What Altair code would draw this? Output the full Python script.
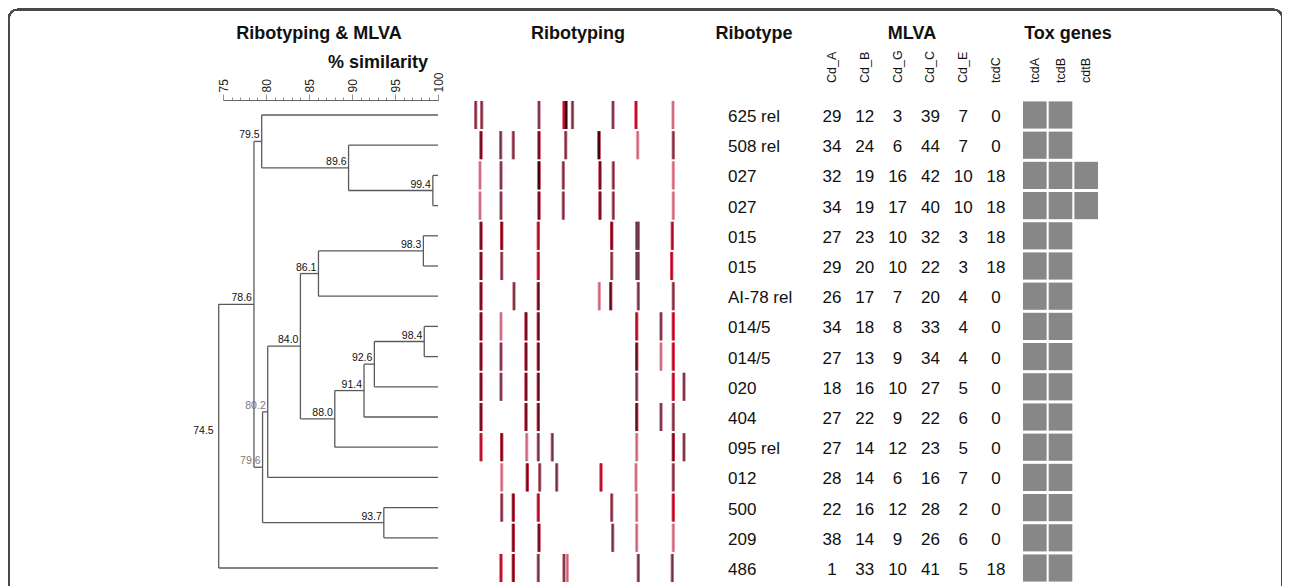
import altair as alt
import pandas as pd

# ---------------- data ----------------
ribotypes = ["625 rel", "508 rel", "027", "027", "015", "015", "AI-78 rel", "014/5",
             "014/5", "020", "404", "095 rel", "012", "500", "209", "486"]

mlva_loci = ["Cd_A", "Cd_B", "Cd_G", "Cd_C", "Cd_E", "tcdC"]
cd_a = [29, 34, 32, 34, 27, 29, 26, 34, 27, 18, 27, 27, 28, 22, 38, 1]
cd_b = [12, 24, 19, 19, 23, 20, 17, 18, 13, 16, 22, 14, 14, 16, 14, 33]
cd_g = [3, 6, 16, 17, 10, 10, 7, 8, 9, 10, 9, 12, 6, 12, 9, 10]
cd_c = [39, 44, 42, 40, 32, 22, 20, 33, 34, 27, 22, 23, 16, 28, 26, 41]
cd_e = [7, 7, 10, 10, 3, 3, 4, 4, 4, 5, 6, 5, 7, 2, 6, 5]
tcdc = [0, 0, 18, 18, 18, 18, 0, 0, 0, 0, 0, 0, 0, 0, 0, 18]

tox_genes = ["tcdA", "tcdB", "cdtB"]
tcda = [1, 1, 1, 1, 1, 1, 1, 1, 1, 1, 1, 1, 1, 1, 1, 1]
tcdb = [1, 1, 1, 1, 1, 1, 1, 1, 1, 1, 1, 1, 1, 1, 1, 1]
cdtb = [0, 0, 1, 1, 0, 0, 0, 0, 0, 0, 0, 0, 0, 0, 0, 0]

# dendrogram: node similarity and its two children ("L#" = leaf row)
node_ids = ["a", "b", "c", "d", "e", "f", "g", "h", "i", "j", "k", "l", "m", "n", "o"]
node_sim = [74.5, 78.6, 79.5, 89.6, 99.4, 79.6, 80.2, 84.0, 86.1, 98.3, 88.0, 91.4, 92.6, 98.4, 93.7]
node_left = ["b", "c", "L0", "L1", "L2", "g", "h", "i", "j", "L4", "l", "m", "n", "L7", "L13"]
node_right = ["L15", "f", "d", "e", "L3", "o", "L12", "k", "L6", "L5", "L11", "L10", "L9", "L8", "L14"]
node_faded = ["f", "g"]

# ribotyping band positions (migration distance units) and tone per row
band_pos = [
    [10.7, 16.7, 74, 99, 101, 107.5, 148, 171, 208],
    [16, 35.7, 48.3, 74, 100.7, 134, 172.7, 208.3],
    [15, 36, 74, 98.3, 135, 148.3, 208.3],
    [15, 36, 74, 98.3, 135, 148.3, 208.3],
    [16, 36.7, 73.3, 146.7, 171.7, 173.3, 207.3],
    [16, 36.7, 73.3, 146.7, 171.7, 173.3, 206.7],
    [16, 49, 73.3, 134.3, 145.7, 173.3, 208.3],
    [16, 36, 61, 73.3, 171.7, 196, 208.3],
    [16, 36, 61, 73.3, 171.7, 196, 208.3],
    [16, 36, 61, 73.3, 171.7, 208.3, 219],
    [16, 61, 73.3, 171.7, 196, 208.3],
    [16, 36.7, 61.7, 73.3, 87.3, 171.7, 208.3, 219],
    [36.7, 62.3, 74.7, 91.7, 136, 171, 208.3],
    [36.7, 48.3, 73.3, 146.7, 171.7, 208.3],
    [48.3, 74, 147.7, 171.7, 208.3],
    [36, 48.3, 73.3, 99, 102.3, 173.3, 207.3],
]
band_tone = [
    ["m", "m", "m", "r", "D", "m", "m", "r", "p"],
    ["d", "m", "m", "d", "m", "D", "p", "m"],
    ["p", "m", "D", "m", "d", "m", "p"],
    ["p", "m", "d", "m", "d", "m", "p"],
    ["d", "d", "r", "d", "m", "m", "r"],
    ["d", "m", "r", "m", "m", "m", "r"],
    ["d", "m", "d", "p", "d", "m", "m"],
    ["d", "p", "d", "d", "r", "m", "r"],
    ["d", "m", "d", "d", "d", "p", "r"],
    ["d", "m", "d", "d", "m", "r", "m"],
    ["d", "d", "d", "d", "m", "m"],
    ["r", "d", "p", "m", "m", "p", "d", "m"],
    ["p", "d", "m", "m", "r", "p", "m"],
    ["m", "d", "r", "m", "p", "r"],
    ["d", "d", "m", "p", "p"],
    ["r", "d", "m", "m", "p", "m", "m"],
]
tone_names = ["D", "d", "r", "m", "p"]
tone_halo = ["#b81e36", "#cf3a52", "#ee4a64", "#d07a8c", "#f2a8b6"]
tone_core = ["#22050a", "#5c0f1e", "#a80c26", "#6a3242", "#c8647a"]

# ---------------- tables built from the arrays ----------------
def ref_y(ref):
    if ref.startswith("L"):
        return float(ref[1:])
    i = node_ids.index(ref)
    return (ref_y(node_left[i]) + ref_y(node_right[i])) / 2.0


def ref_x(ref):
    if ref.startswith("L"):
        return 100.0
    return node_sim[node_ids.index(ref)]


seg_rows = []
lab_rows = []
for i, nid in enumerate(node_ids):
    s = node_sim[i]
    yl, yr = ref_y(node_left[i]), ref_y(node_right[i])
    seg_rows.append({"x": s, "x2": s, "y": yl, "y2": yr})
    for ch in (node_left[i], node_right[i]):
        seg_rows.append({"x": s, "x2": ref_x(ch), "y": ref_y(ch), "y2": ref_y(ch)})
    lab_rows.append({"x": s, "y": (yl + yr) / 2.0, "label": f"{s:.1f}",
                     "shade": "faded" if nid in node_faded else "normal",
                     "root": i == 0})
segs = pd.DataFrame(seg_rows)
labs = pd.DataFrame(lab_rows)

bands = pd.DataFrame([
    {"row": r, "pos": p, "tone": t}
    for r in range(len(ribotypes))
    for p, t in zip(band_pos[r], band_tone[r])
])

rib_df = pd.DataFrame({"row": list(range(len(ribotypes))), "ribotype": ribotypes})

mlva_cols = [cd_a, cd_b, cd_g, cd_c, cd_e, tcdc]
mlva_df = pd.DataFrame([
    {"row": r, "locus": loc, "value": vals[r]}
    for loc, vals in zip(mlva_loci, mlva_cols)
    for r in range(len(ribotypes))
])
mlva_head = pd.DataFrame({"locus": mlva_loci})

tox_cols = [tcda, tcdb, cdtb]
tox_df = pd.DataFrame([
    {"row": r, "gene": g}
    for g, vals in zip(tox_genes, tox_cols)
    for r in range(len(ribotypes)) if vals[r]
])
tox_head = pd.DataFrame({"gene": tox_genes})

# ---------------- scales ----------------
FONT = "Liberation Sans"
Y_SCALE = alt.Scale(domain=[0, 15], range=[107, 560], zero=False, nice=False)
SIM_SCALE = alt.Scale(domain=[75, 100], range=[215, 430], zero=False, nice=False)
BAND_SCALE = alt.Scale(domain=[0, 230], range=[457, 687], zero=False, nice=False)
LOCUS_SCALE = alt.Scale(type="point", domain=mlva_loci, range=[824, 988], padding=0)
GENE_SCALE = alt.Scale(type="band", domain=tox_genes, range=[1015, 1090],
                       paddingInner=0.08, paddingOuter=0)

sim_axis = alt.Axis(
    orient="top", offset=-92, values=list(range(75, 101)), title=None,
    labelExpr="datum.value % 5 === 0 ? datum.label : ''",
    labelAngle=270, labelFontSize=12, labelFont=FONT, labelColor="#222",
    labelPadding=2, labelFlush=False, labelOverlap=False, labelBound=False,
    domainColor="#666", domainWidth=1, tickColor="#777", tickWidth=0.8,
    tickSize={"condition": {"test": "datum.value % 5 === 0", "value": 6}, "value": 3},
    grid=False,
)

# ---------------- layers ----------------
border = alt.Chart(rib_df).mark_rect(
    clip=True, fillOpacity=0, stroke="#4a4a4a", strokeWidth=1.5, cornerRadius=9
).encode(x=alt.value(0.75), x2=alt.value(1274.5), y=alt.value(1.5), y2=alt.value(660))

tree = alt.Chart(segs).mark_rule(color="#5a5a5a", strokeWidth=1.3).encode(
    x=alt.X("x:Q", scale=SIM_SCALE, axis=sim_axis),
    x2="x2:Q",
    y=alt.Y("y:Q", scale=Y_SCALE, axis=None),
    y2="y2:Q",
)

node_labels = alt.Chart(labs).transform_filter("!datum.root").mark_text(
    align="right", baseline="alphabetic", dx=-2, dy=-3, fontSize=10.5, font=FONT
).encode(
    x=alt.X("x:Q", scale=SIM_SCALE, axis=None),
    y=alt.Y("y:Q", scale=Y_SCALE, axis=None),
    text="label:N",
    color=alt.Color("shade:N", scale=alt.Scale(domain=["normal", "faded"],
                                               range=["#111111", "#7a7a7a"]), legend=None),
)

root_label = alt.Chart(labs).transform_filter("datum.root").mark_text(
    align="right", baseline="middle", dx=-5, dy=-5, fontSize=10.5, font=FONT, color="#111"
).encode(
    x=alt.X("x:Q", scale=SIM_SCALE, axis=None),
    y=alt.Y("y:Q", scale=Y_SCALE, axis=None),
    text="label:N",
)


def band_layer(width, colors):
    return alt.Chart(bands).transform_calculate(
        y0="datum.row - 0.465", y1="datum.row + 0.465"
    ).mark_rule(strokeWidth=width).encode(
        x=alt.X("pos:Q", scale=BAND_SCALE, axis=None),
        y=alt.Y("y0:Q", scale=Y_SCALE, axis=None),
        y2="y1:Q",
        color=alt.Color("tone:N", scale=alt.Scale(domain=tone_names, range=colors), legend=None),
    )


band_halo = band_layer(3.4, tone_halo)
band_core = band_layer(1.7, tone_core)

rib_labels = alt.Chart(rib_df).mark_text(
    align="left", baseline="middle", dy=2, fontSize=17, font=FONT, color="#111"
).encode(
    x=alt.value(720),
    y=alt.Y("row:Q", scale=Y_SCALE, axis=None),
    text="ribotype:N",
)

mlva_vals = alt.Chart(mlva_df).mark_text(
    align="center", baseline="middle", dy=2, fontSize=17, font=FONT, color="#111"
).encode(
    x=alt.X("locus:N", scale=LOCUS_SCALE, axis=None),
    y=alt.Y("row:Q", scale=Y_SCALE, axis=None),
    text="value:Q",
)

mlva_heads = alt.Chart(mlva_head).mark_text(
    align="left", baseline="middle", angle=270, fontSize=12.5, font=FONT, color="#111"
).encode(
    x=alt.X("locus:N", scale=LOCUS_SCALE, axis=None),
    y=alt.value(75),
    text="locus:N",
)

tox_rects = alt.Chart(tox_df).transform_calculate(
    y0="datum.row - 0.45", y1="datum.row + 0.45"
).mark_rect(color="#878787").encode(
    x=alt.X("gene:N", scale=GENE_SCALE, axis=None),
    y=alt.Y("y0:Q", scale=Y_SCALE, axis=None),
    y2="y1:Q",
)

tox_heads = alt.Chart(tox_head).mark_text(
    align="left", baseline="middle", angle=270, fontSize=12.5, font=FONT, color="#111"
).encode(
    x=alt.X("gene:N", scale=GENE_SCALE, axis=None),
    y=alt.value(75),
    text="gene:N",
)


def header(text, x, y, align="center"):
    return alt.Chart(mlva_head).transform_filter("datum.locus === 'Cd_A'").mark_text(
        text=text, align=align, baseline="middle", fontSize=18, fontWeight="bold",
        font=FONT, color="#111"
    ).encode(x=alt.value(x), y=alt.value(y))


headers = [
    header("Ribotyping & MLVA", 311, 26),
    header("% similarity", 420, 55, align="right"),
    header("Ribotyping", 570, 26),
    header("Ribotype", 746, 26),
    header("MLVA", 904, 26),
    header("Tox genes", 1060, 26),
]

chart = alt.layer(
    border, tree, node_labels, root_label, band_halo, band_core, rib_labels,
    mlva_vals, mlva_heads, tox_rects, tox_heads, *headers
).resolve_scale(
    x="independent", y="independent", color="independent"
).properties(
    width=1274, height=578, autosize=alt.AutoSizeParams(type="none"), padding=0,
    background="white"
).configure_view(strokeWidth=0)

chart.save("out.html", embed_options={"renderer": "svg", "actions": False})
